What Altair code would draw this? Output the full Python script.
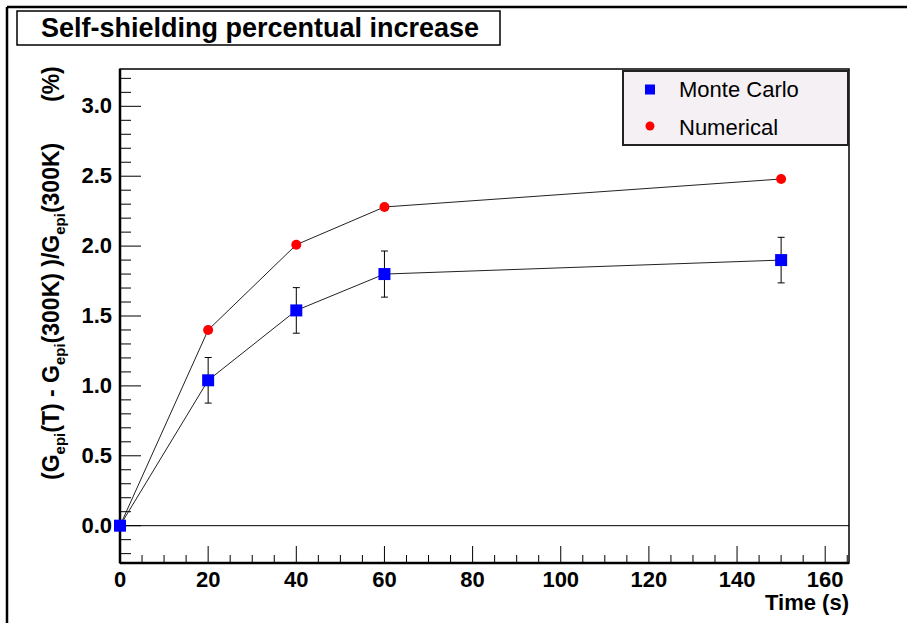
import altair as alt
import pandas as pd

# ---------------- data ----------------
time_s = [0, 20, 40, 60, 150]
monte_carlo = [0.0, 1.04, 1.54, 1.80, 1.90]
monte_carlo_err = [0.0, 0.163, 0.163, 0.165, 0.163]
numerical = [0.0, 1.40, 2.01, 2.28, 2.48]

x_major = [0, 20, 40, 60, 80, 100, 120, 140, 160]
x_minor = [5, 10, 15, 25, 30, 35, 45, 50, 55, 65, 70, 75, 85, 90, 95, 105, 110, 115,
           125, 130, 135, 145, 150, 155, 165]
y_major = [0.0, 0.5, 1.0, 1.5, 2.0, 2.5, 3.0]
y_minor = [-0.2, -0.1, 0.1, 0.2, 0.3, 0.4, 0.6, 0.7, 0.8, 0.9, 1.1, 1.2, 1.3, 1.4,
           1.6, 1.7, 1.8, 1.9, 2.1, 2.2, 2.3, 2.4, 2.6, 2.7, 2.8, 2.9, 3.1, 3.2]

series_names = ["Monte Carlo", "Numerical"]
title_text = "Self-shielding percentual increase"
x_title = "Time (s)"

# ---------------- layout ----------------
W, H = 729, 494
PAD_L, PAD_T, PAD_R, PAD_B = 120, 69, 58, 60
FONT = "Liberation Sans"

xs = alt.Scale(domain=[0, 165.4], nice=False, zero=False)
ys = alt.Scale(domain=[-0.267, 3.267], nice=False, zero=False)

mc_df = pd.DataFrame({
    "x": time_s,
    "y": monte_carlo,
    "lo": [v - e for v, e in zip(monte_carlo, monte_carlo_err)],
    "hi": [v + e for v, e in zip(monte_carlo, monte_carlo_err)],
})
num_df = pd.DataFrame({"x": time_s, "y": numerical})


def one(text=""):
    return pd.DataFrame({"t": [text]})


X = lambda f="x:Q": alt.X(f, scale=xs, axis=None)
Y = lambda f="y:Q": alt.Y(f, scale=ys, axis=None)

mc_line = alt.Chart(mc_df).mark_line(color="#222222", strokeWidth=1).encode(x=X(), y=Y())
num_line = alt.Chart(num_df).mark_line(color="#222222", strokeWidth=1).encode(x=X(), y=Y())

err_rule = alt.Chart(mc_df).mark_rule(color="black", strokeWidth=1).encode(
    x=X(), y=Y("lo:Q"), y2="hi:Q")
cap_lo = alt.Chart(mc_df).mark_tick(color="black", orient="horizontal", size=7, thickness=1,
                                    opacity=1).encode(x=X(), y=Y("lo:Q"))
cap_hi = alt.Chart(mc_df).mark_tick(color="black", orient="horizontal", size=7, thickness=1,
                                    opacity=1).encode(x=X(), y=Y("hi:Q"))

num_pts = alt.Chart(num_df).mark_point(shape="circle", filled=True, size=100, color="#ff0000",
                                       opacity=1).encode(x=X(), y=Y())
mc_pts = alt.Chart(mc_df).mark_point(shape="square", filled=True, size=144, color="#0000ff",
                                     opacity=1).encode(x=X(), y=Y())

# zero line
zero_line = alt.Chart(pd.DataFrame({"y": [0.0]})).mark_rule(color="black", strokeWidth=1).encode(
    y=Y(), x=alt.value(0), x2=alt.value(W))

# inward ticks
y_maj_t = alt.Chart(pd.DataFrame({"y": y_major})).mark_rule(color="black", strokeWidth=1).encode(
    y=Y(), x=alt.value(0), x2=alt.value(21))
y_min_t = alt.Chart(pd.DataFrame({"y": y_minor})).mark_rule(color="black", strokeWidth=1).encode(
    y=Y(), x=alt.value(0), x2=alt.value(11))
x_maj_t = alt.Chart(pd.DataFrame({"x": x_major})).mark_rule(color="black", strokeWidth=1).encode(
    x=X(), y=alt.value(H), y2=alt.value(H - 17))
x_min_t = alt.Chart(pd.DataFrame({"x": x_minor})).mark_rule(color="black", strokeWidth=1).encode(
    x=X(), y=alt.value(H), y2=alt.value(H - 8))

# tick labels
y_lab = alt.Chart(pd.DataFrame({"y": y_major, "t": [f"{v:.1f}" for v in y_major]})).mark_text(
    font=FONT, fontWeight="bold", fontSize=22, color="black", align="right",
    baseline="middle").encode(y=Y(), x=alt.value(-8), text="t:N")
x_lab = alt.Chart(pd.DataFrame({"x": x_major, "t": [str(v) for v in x_major]})).mark_text(
    font=FONT, fontWeight="bold", fontSize=22, color="black", align="center",
    baseline="alphabetic").encode(x=X(), y=alt.value(H + 24), text="t:N")
x_ttl = alt.Chart(one(x_title)).mark_text(
    font=FONT, fontWeight="bold", fontSize=22, color="black", align="right",
    baseline="alphabetic").encode(x=alt.value(W), y=alt.value(H + 47), text="t:N")

# heavier left / bottom axis lines
left_axis = alt.Chart(one()).mark_rule(color="black", strokeWidth=2.5).encode(
    x=alt.value(0), y=alt.value(0), y2=alt.value(H))
bottom_axis = alt.Chart(one()).mark_rule(color="black", strokeWidth=2.5).encode(
    x=alt.value(0), x2=alt.value(W), y=alt.value(H))

# outer canvas frame (top and left edges)
frame_top = alt.Chart(one()).mark_rule(color="black", strokeWidth=2.5).encode(
    x=alt.value(-113), x2=alt.value(792), y=alt.value(-62))
frame_left = alt.Chart(one()).mark_rule(color="black", strokeWidth=2.5).encode(
    x=alt.value(-113), y=alt.value(-62), y2=alt.value(H + PAD_B + 5))

# title box
title_box = alt.Chart(one()).mark_rect(fill="white", stroke="black", strokeWidth=1.5).encode(
    x=alt.value(-103), x2=alt.value(380), y=alt.value(-58), y2=alt.value(-24))
title_txt = alt.Chart(one(title_text)).mark_text(
    font=FONT, fontWeight="bold", fontSize=27, color="black", align="center",
    baseline="alphabetic").encode(text="t:N", x=alt.value(140), y=alt.value(-32))

# legend
leg_box = alt.Chart(one()).mark_rect(fill="#f4f0f4", stroke="#222222", strokeWidth=2).encode(
    x=alt.value(503), x2=alt.value(728), y=alt.value(2), y2=alt.value(76))
leg_sq = alt.Chart(one()).mark_point(shape="square", filled=True, size=100, color="#0000ff",
                                     opacity=1).encode(x=alt.value(530), y=alt.value(20.5))
leg_ci = alt.Chart(one()).mark_point(shape="circle", filled=True, size=80, color="#ff0000",
                                     opacity=1).encode(x=alt.value(530), y=alt.value(57))
leg_t1 = alt.Chart(one(series_names[0])).mark_text(
    font=FONT, fontSize=22, color="black", align="left", baseline="alphabetic").encode(
    text="t:N", x=alt.value(559), y=alt.value(28))
leg_t2 = alt.Chart(one(series_names[1])).mark_text(
    font=FONT, fontSize=22, color="black", align="left", baseline="alphabetic").encode(
    text="t:N", x=alt.value(559), y=alt.value(66))

# y-axis title with subscripts, built from pieces (bottom to top)
label_pieces = [("(G", False), ("epi", True), ("(T) - G", False), ("epi", True),
                ("(300K) )/G", False), ("epi", True), ("(300K)", False)]
cw = {"(": 333, ")": 333, "G": 778, "T": 611, " ": 278, "-": 333, "3": 556, "0": 556,
      "K": 722, "/": 278, "%": 889, "e": 556, "p": 611, "i": 278}
F_MAIN, F_SUB = 23, 15
y_cursor = 480 - PAD_T
ylabel_layers = []
for txt, sub in label_pieces:
    fs = F_SUB if sub else F_MAIN
    ylabel_layers.append(alt.Chart(one(txt)).mark_text(
        font=FONT, fontWeight="bold", fontSize=fs, color="black", angle=270,
        align="left", baseline="alphabetic").encode(
        text="t:N", x=alt.value((65 if sub else 59) - PAD_L), y=alt.value(y_cursor)))
    y_cursor -= sum(cw[c] for c in txt) / 1000 * fs
ylabel_layers.append(alt.Chart(one("(%)")).mark_text(
    font=FONT, fontWeight="bold", fontSize=F_MAIN, color="black", angle=270,
    align="left", baseline="alphabetic").encode(
    text="t:N", x=alt.value(59 - PAD_L), y=alt.value(102 - PAD_T)))

chart = alt.layer(
    mc_line, num_line, zero_line, y_maj_t, y_min_t, x_maj_t, x_min_t,
    left_axis, bottom_axis, err_rule, cap_lo, cap_hi, num_pts, mc_pts,
    y_lab, x_lab, x_ttl,
    leg_box, leg_sq, leg_ci, leg_t1, leg_t2,
    frame_top, frame_left, title_box, title_txt, *ylabel_layers,
).properties(
    width=W, height=H,
    autosize=alt.AutoSizeParams(type="none"),
    padding={"left": PAD_L, "top": PAD_T, "right": PAD_R, "bottom": PAD_B},
    background="white",
).configure_view(stroke="black", strokeWidth=1.5)

chart.save("out.html", embed_options={"renderer": "svg", "actions": False})
